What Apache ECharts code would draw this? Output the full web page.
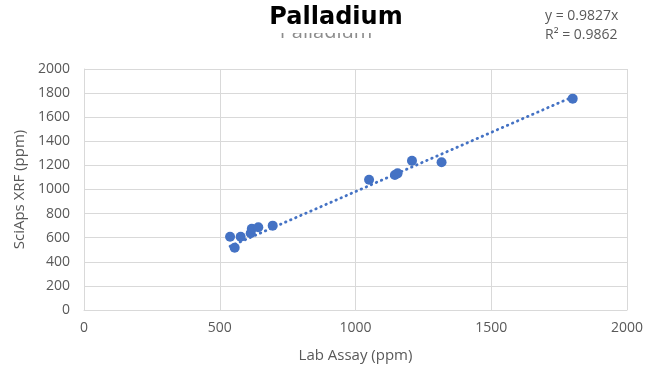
<!DOCTYPE html>
<html><head><meta charset="utf-8">
<script src="https://cdn.jsdelivr.net/npm/echarts@6/dist/echarts.min.js"></script>
<style>html,body{margin:0;padding:0;background:#fff}#c{width:656px;height:368px}</style>
</head><body><div id="c"></div>
<script>
const labAssay = [538, 555, 577, 614, 618, 642, 695, 1050, 1145, 1155, 1208, 1317, 1800];
const sciapsXrf = [608, 517, 608, 637, 675, 686, 700, 1081, 1120, 1134, 1239, 1226, 1754];
const slope = 0.9827;
const xTicks = [0, 500, 1000, 1500, 2000];
const yTicks = [0, 200, 400, 600, 800, 1000, 1200, 1400, 1600, 1800, 2000];

const pts = labAssay.map((x, i) => [x, sciapsXrf[i]]);
const xmin = Math.min(...labAssay), xmax = Math.max(...labAssay);
const trend = [[xmin, slope * xmin], [xmax, slope * xmax]];
const txt = '#595959', grid = '#d9d9d9', font = 'Open Sans';

const chart = echarts.init(document.getElementById('c'));
chart.setOption({
  animation: false,
  backgroundColor: '#fff',
  textStyle: {fontFamily: font},
  grid: {left: 84, right: 29, top: 69, bottom: 58, containLabel: false},
  graphic: [
    {type: 'text', x: 326, y: 22, z: 1, style: {text: 'Palladium', fill: '#8c8c8c', font: '20px "Open Sans"', align: 'center'}},
    {type: 'rect', shape: {x: 230, y: 4, width: 200, height: 29}, z: 2, style: {fill: '#fff'}},
    {type: 'text', x: 336, y: 6, z: 3, style: {text: 'Palladium', fill: '#000', font: 'bold 24px "DejaVu Sans"', align: 'center'}},
    {type: 'text', x: 545, y: 9, z: 3, style: {text: 'y = 0.9827x', fill: txt, font: '14px "Open Sans"'}},
    {type: 'text', x: 545, y: 28, z: 3, style: {text: 'R² = 0.9862', fill: txt, font: '14px "Open Sans"'}}
  ],
  xAxis: {
    type: 'value', min: xTicks[0], max: xTicks[xTicks.length - 1], interval: 500,
    name: 'Lab Assay (ppm)', nameLocation: 'middle', nameGap: 38,
    nameTextStyle: {color: txt, fontSize: 15, fontFamily: font},
    axisLine: {show: true, lineStyle: {color: grid}},
    axisTick: {show: false},
    axisLabel: {color: txt, fontSize: 14, margin: 11, fontFamily: font, formatter: v => String(v)},
    splitLine: {show: true, lineStyle: {color: grid, width: 1}}
  },
  yAxis: {
    type: 'value', min: yTicks[0], max: yTicks[yTicks.length - 1], interval: 200,
    name: 'SciAps XRF (ppm)', nameLocation: 'middle', nameGap: 54, nameRotate: 90,
    nameTextStyle: {color: txt, fontSize: 15, fontFamily: font},
    axisLine: {show: true, lineStyle: {color: grid}},
    axisTick: {show: false},
    axisLabel: {color: txt, fontSize: 14, margin: 14, fontFamily: font, formatter: v => String(v)},
    splitLine: {show: true, lineStyle: {color: grid, width: 1}}
  },
  series: [
    {type: 'line', data: trend, symbol: 'none', z: 2,
     lineStyle: {color: '#4472C4', width: 2.8, type: [0.5, 5], cap: 'round'}},
    {type: 'scatter', data: pts, symbolSize: 10, z: 3,
     itemStyle: {color: '#4472C4', opacity: 1}}
  ]
});
</script></body></html>
